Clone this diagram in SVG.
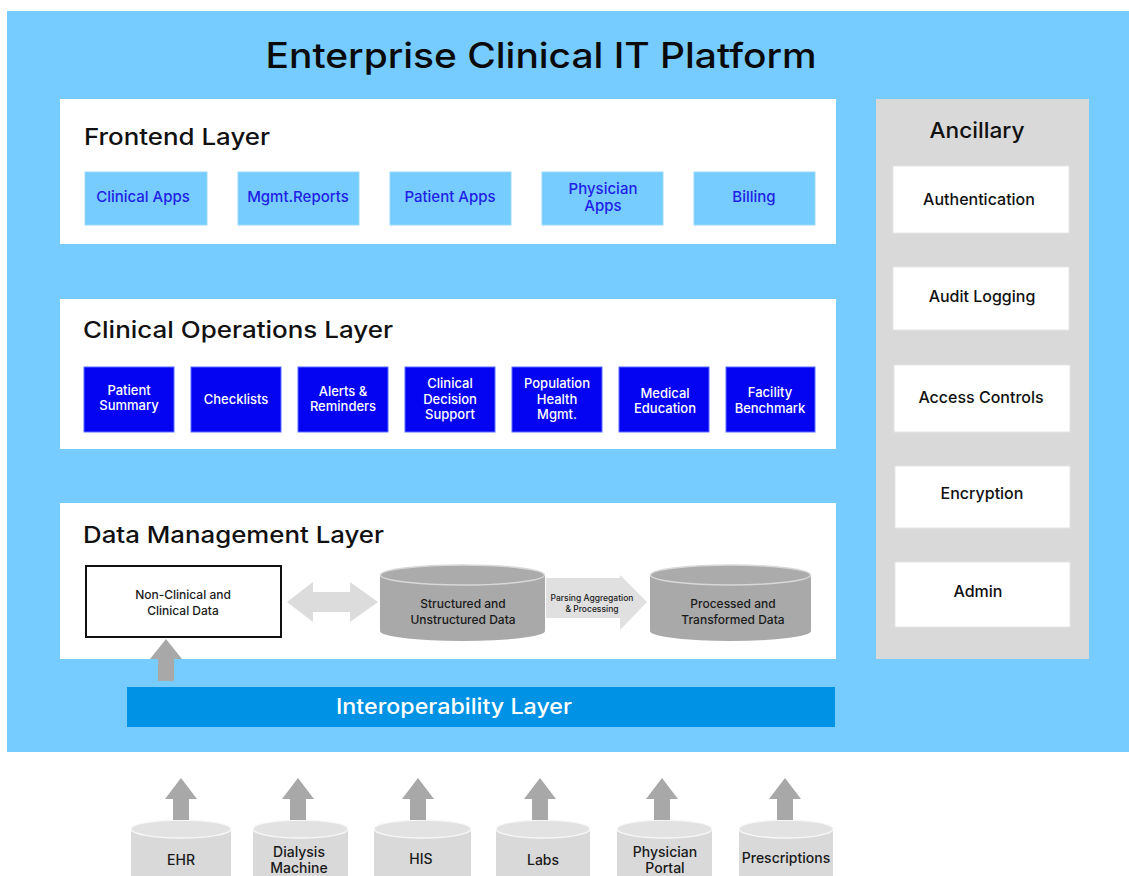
<svg xmlns="http://www.w3.org/2000/svg" width="1129" height="876" viewBox="0 0 1129 876">
<style>
text{font-family:Inter,"Noto Sans","Liberation Sans",sans-serif;}
.layer{fill:#ffffff;}
.lt{font-size:23px;font-weight:500;fill:#111;}
.fb{fill:#76CCFE;stroke:#9ad8ff;stroke-width:1;}
.fbt{font-size:15px;font-weight:500;fill:#1F22E6;text-anchor:middle;}
.ob{fill:#0404F2;stroke:#5a6cff;stroke-width:1;}
.obt{font-size:13px;font-weight:500;fill:#ffffff;text-anchor:middle;}
.ab{fill:#ffffff;stroke:#e6e6e6;stroke-width:1;}
.abt{font-size:16px;font-weight:500;fill:#111;text-anchor:middle;}
.dt{font-size:12px;font-weight:500;fill:#1a1a1a;text-anchor:middle;}
.st{font-size:14px;font-weight:500;fill:#1a1a1a;text-anchor:middle;}
.garrow{fill:#A8A8A8;}
.cylb{fill:#A9A9A9;}
.cylt{fill:#ABABAB;stroke:#d8d8d8;stroke-width:1.5;}
.scb{fill:#D9D9D9;}
.sct{fill:#E2E2E2;stroke:#f7f7f7;stroke-width:1.5;}
</style>

<g id="platform">
<rect x="7" y="11" width="1122" height="741" fill="#76CCFE"/>
<text x="541" y="68" font-size="35" font-weight="500" fill="#0a0a0a" text-anchor="middle" textLength="551" lengthAdjust="spacingAndGlyphs">Enterprise Clinical IT Platform</text>
</g>

<g id="frontend-layer">
<rect class="layer" x="60" y="99" width="776" height="145"/>
<text class="lt" x="84" y="145" textLength="186" lengthAdjust="spacingAndGlyphs">Frontend Layer</text>
</g>
<g id="clinical-apps"><rect class="fb" x="85" y="172" width="122" height="53"/><text class="fbt" x="143" y="202">Clinical Apps</text></g>
<g id="mgmt-reports"><rect class="fb" x="238" y="172" width="121" height="53"/><text class="fbt" x="298" y="202">Mgmt.Reports</text></g>
<g id="patient-apps"><rect class="fb" x="390" y="172" width="121" height="53"/><text class="fbt" x="450" y="202">Patient Apps</text></g>
<g id="physician-apps"><rect class="fb" x="542" y="172" width="121" height="53"/><text class="fbt" x="603" y="194">Physician</text><text class="fbt" x="603" y="211">Apps</text></g>
<g id="billing"><rect class="fb" x="694" y="172" width="121" height="53"/><text class="fbt" x="754" y="202">Billing</text></g>

<g id="clinical-operations-layer">
<rect class="layer" x="60" y="299" width="776" height="150"/>
<text class="lt" x="83" y="338" textLength="310" lengthAdjust="spacingAndGlyphs">Clinical Operations Layer</text>
</g>
<g id="patient-summary"><rect class="ob" x="84" y="367" width="90" height="65"/><text class="obt" x="129" y="395">Patient</text><text class="obt" x="129" y="410">Summary</text></g>
<g id="checklists"><rect class="ob" x="191" y="367" width="90" height="65"/><text class="obt" x="236" y="404">Checklists</text></g>
<g id="alerts-reminders"><rect class="ob" x="298" y="367" width="90" height="65"/><text class="obt" x="343" y="396">Alerts &amp;</text><text class="obt" x="343" y="411">Reminders</text></g>
<g id="clinical-decision-support"><rect class="ob" x="405" y="367" width="90" height="65"/><text class="obt" x="450" y="388">Clinical</text><text class="obt" x="450" y="404">Decision</text><text class="obt" x="450" y="419">Support</text></g>
<g id="population-health"><rect class="ob" x="512" y="367" width="90" height="65"/><text class="obt" x="557" y="388">Population</text><text class="obt" x="557" y="404">Health</text><text class="obt" x="557" y="419">Mgmt.</text></g>
<g id="medical-education"><rect class="ob" x="619" y="367" width="90" height="65"/><text class="obt" x="665" y="398">Medical</text><text class="obt" x="665" y="413">Education</text></g>
<g id="facility-benchmark"><rect class="ob" x="726" y="367" width="89" height="65"/><text class="obt" x="770" y="397">Facility</text><text class="obt" x="770" y="413">Benchmark</text></g>

<g id="data-management-layer">
<rect class="layer" x="60" y="503" width="776" height="156"/>
<text class="lt" x="83" y="543" textLength="301" lengthAdjust="spacingAndGlyphs">Data Management Layer</text>
</g>
<g id="non-clinical-data"><rect x="86" y="566" width="195" height="71" fill="#fff" stroke="#111" stroke-width="2"/><text class="dt" x="183" y="599">Non-Clinical and</text><text class="dt" x="183" y="615">Clinical Data</text></g>
<g id="structured-data">
<path class="cylb" d="M380 575 V631 A82.5 10 0 0 0 545 631 V575 Z"/>
<ellipse class="cylt" cx="462.5" cy="575" rx="82" ry="10"/>
<text class="dt" x="463" y="608">Structured and</text><text class="dt" x="463" y="624">Unstructured Data</text>
</g>
<g id="processed-data">
<path class="cylb" d="M650 575 V631 A80.5 10 0 0 0 811 631 V575 Z"/>
<ellipse class="cylt" cx="730.5" cy="575" rx="80" ry="10"/>
<text class="dt" x="733" y="608">Processed and</text><text class="dt" x="733" y="624">Transformed Data</text>
</g>

<g id="interoperability-layer">
<rect x="127" y="687" width="708" height="40" fill="#0092E4"/>
<text x="454" y="714" font-size="21" font-weight="500" fill="#fff" text-anchor="middle" textLength="236" lengthAdjust="spacingAndGlyphs">Interoperability Layer</text>
</g>

<g id="ancillary">
<rect x="876" y="99" width="213" height="560" fill="#D9D9D9"/>
<text x="977" y="138" font-size="22" font-weight="500" fill="#111" text-anchor="middle" textLength="95" lengthAdjust="spacingAndGlyphs">Ancillary</text>
</g>
<g id="authentication"><rect class="ab" x="893" y="166" width="176" height="67"/><text class="abt" x="979" y="205">Authentication</text></g>
<g id="audit-logging"><rect class="ab" x="893" y="267" width="176" height="63"/><text class="abt" x="982" y="302">Audit Logging</text></g>
<g id="access-controls"><rect class="ab" x="894" y="365" width="176" height="67"/><text class="abt" x="981" y="403">Access Controls</text></g>
<g id="encryption"><rect class="ab" x="895" y="466" width="175" height="62"/><text class="abt" x="982" y="499">Encryption</text></g>
<g id="admin"><rect class="ab" x="895" y="562" width="175" height="65"/><text class="abt" x="978" y="597">Admin</text></g>

<g id="sources">
<g id="ehr"><path class="scb" d="M131 829 V876 H231 V829 Z"/><ellipse class="sct" cx="181" cy="829" rx="50" ry="9"/><text class="st" x="181" y="865">EHR</text></g>
<g id="dialysis"><path class="scb" d="M253 829 V876 H348 V829 Z"/><ellipse class="sct" cx="300.5" cy="829" rx="47.5" ry="9"/><text class="st" x="299" y="857">Dialysis</text><text class="st" x="299" y="873">Machine</text></g>
<g id="his"><path class="scb" d="M374 829 V876 H471 V829 Z"/><ellipse class="sct" cx="422.5" cy="829" rx="48.5" ry="9"/><text class="st" x="421" y="864">HIS</text></g>
<g id="labs"><path class="scb" d="M496 829 V876 H590 V829 Z"/><ellipse class="sct" cx="543" cy="829" rx="47" ry="9"/><text class="st" x="543" y="865">Labs</text></g>
<g id="physician-portal"><path class="scb" d="M617 829 V876 H712 V829 Z"/><ellipse class="sct" cx="664.5" cy="829" rx="47.5" ry="9"/><text class="st" x="665" y="857">Physician</text><text class="st" x="665" y="873">Portal</text></g>
<g id="prescriptions"><path class="scb" d="M739 829 V876 H833 V829 Z"/><ellipse class="sct" cx="786" cy="829" rx="47" ry="9"/><text class="st" x="786" y="863">Prescriptions</text></g>
</g>

<g id="connectors">
<path d="M287 602 L313 582 V592 H350 V582 L378 602 L350 622 V612 H313 V622 Z" fill="#DCDCDC"/>
<path d="M546 578 H620 V575 L647 602 L620 630 V618 H546 Z" fill="#E0E0E0"/>
<text x="592" y="601" font-size="8.5" font-weight="500" fill="#222" text-anchor="middle">Parsing Aggregation</text>
<text x="592" y="612" font-size="8.5" font-weight="500" fill="#222" text-anchor="middle">&amp; Processing</text>
<path class="garrow" d="M158 681 V659 H150 L166 639 L182 659 H174 V681 Z"/>
<path class="garrow" d="M173 820 V799 H165 L181 778 L197 799 H189 V820 Z"/>
<path class="garrow" d="M290 820 V799 H282 L298 778 L314 799 H306 V820 Z"/>
<path class="garrow" d="M410 820 V799 H402 L418 778 L434 799 H426 V820 Z"/>
<path class="garrow" d="M532 820 V799 H524 L540 778 L556 799 H548 V820 Z"/>
<path class="garrow" d="M654 820 V799 H646 L662 778 L678 799 H670 V820 Z"/>
<path class="garrow" d="M777 820 V799 H769 L785 778 L801 799 H793 V820 Z"/>
</g>
</svg>
